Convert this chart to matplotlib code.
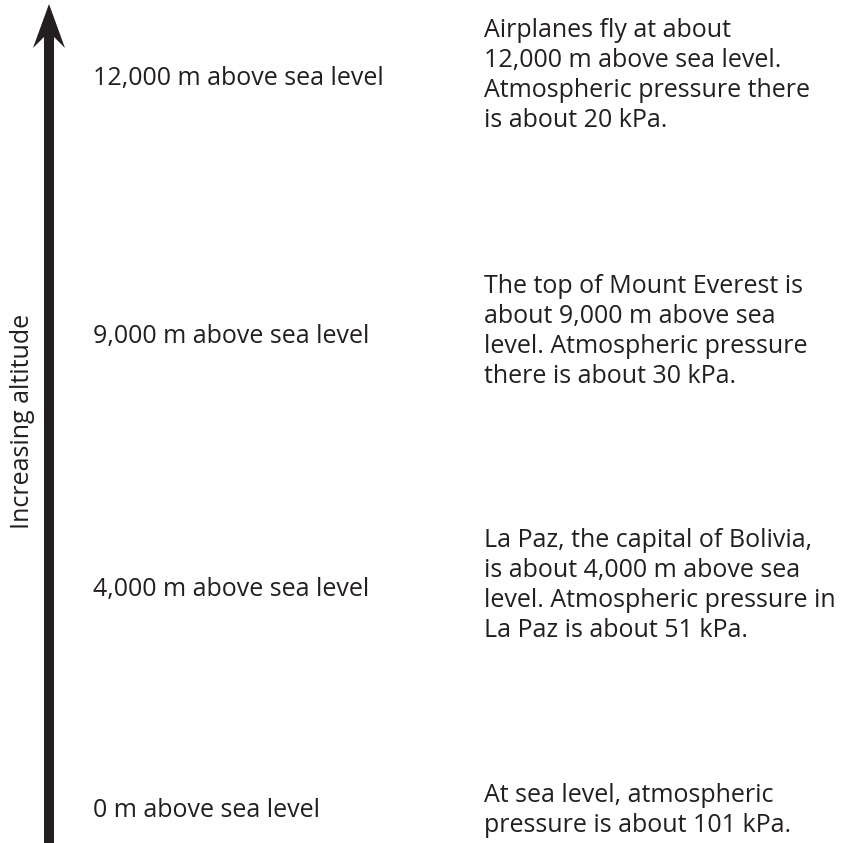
import matplotlib
matplotlib.use("Agg")
import matplotlib.pyplot as plt
from matplotlib.patches import Polygon

plt.rcParams['font.family'] = ['Open Sans', 'DejaVu Sans']

altitude_labels = ["12,000 m above sea level", "9,000 m above sea level",
                   "4,000 m above sea level", "0 m above sea level"]
descriptions = [
    "Airplanes fly at about\n12,000 m above sea level.\nAtmospheric pressure there\nis about 20 kPa.",
    "The top of Mount Everest is\nabout 9,000 m above sea\nlevel. Atmospheric pressure\nthere is about 30 kPa.",
    "La Paz, the capital of Bolivia,\nis about 4,000 m above sea\nlevel. Atmospheric pressure in\nLa Paz is about 51 kPa.",
    "At sea level, atmospheric\npressure is about 101 kPa.",
]
axis_label = "Increasing altitude"

# baselines (pixels from top) of left labels and first line of right blocks
label_base = [85, 343, 596, 817]
desc_base = [37, 293, 547, 802]
line_step = 30

W, H = 841, 843
fig = plt.figure(figsize=(W / 100, H / 100), dpi=100)
ax = fig.add_axes([0, 0, 1, 1])
ax.set_xlim(0, W)
ax.set_ylim(H, 0)
ax.axis('off')

col = '#231f20'
arrow = Polygon([(49, 4), (65, 48), (54, 37), (54, 845), (44, 845), (44, 37), (33, 48)],
                closed=True, facecolor=col, edgecolor='none')
ax.add_patch(arrow)

ax.text(23, 421, axis_label, rotation=90, ha='center', va='center', fontsize=18, color=col)

for lab, y in zip(altitude_labels, label_base):
    ax.text(93, y, lab, ha='left', va='baseline', fontsize=18, color=col)

for d, y in zip(descriptions, desc_base):
    n = d.count("\n")
    ax.text(484, y + line_step * n, d, ha='left', va='baseline', fontsize=18,
            color=col, linespacing=1.26)

fig.savefig("out.png", dpi=100)
